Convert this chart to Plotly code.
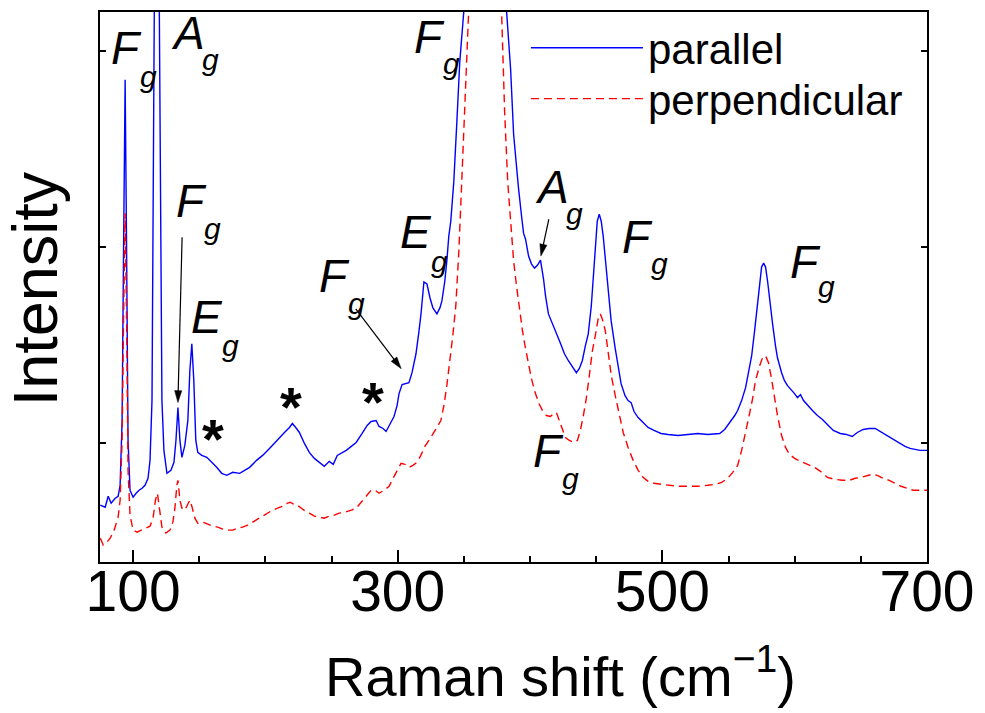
import math
import plotly.graph_objects as go

# ---------------- data ----------------
series_names = ["parallel", "perpendicular"]

# (Raman shift in cm^-1, intensity in arb. units)
parallel = [
    (75.2, 57), (78.9, 55), (81.2, 66), (83.4, 59), (86.5, 64), (88.7, 66), (90.2, 77),
    (91.7, 142), (92.8, 312), (94.0, 484), (95.1, 312), (96.2, 122), (97.7, 72),
    (100.0, 65), (102.3, 69), (104.5, 72), (106.8, 74), (109.0, 77), (111.3, 84),
    (112.8, 102), (114.3, 162), (115.5, 400), (116.2, 560), (118.0, 1000), (119.8, 560),
    (120.6, 400), (121.8, 162), (123.3, 112), (125.6, 89), (128.6, 92), (130.9, 100),
    (132.4, 122), (133.9, 155), (135.4, 122), (136.9, 105), (139.1, 117), (141.4, 142),
    (142.9, 192), (144.4, 219), (145.9, 182), (147.4, 122), (148.9, 110), (151.9, 107),
    (155.7, 105), (159.5, 100), (163.2, 95), (167.0, 89), (170.8, 87), (175.3, 90),
    (180.5, 89), (184.3, 92), (188.1, 95), (193.3, 102), (197.9, 107), (203.1, 114),
    (208.4, 122), (214.4, 130), (218.2, 135), (220.4, 139), (223.5, 134), (225.7, 130),
    (229.5, 119), (233.2, 110), (237.0, 104), (240.8, 100), (244.5, 96), (248.3, 101),
    (251.3, 98), (254.3, 107), (258.1, 110), (261.1, 112), (264.9, 116), (268.6, 120),
    (273.1, 129), (276.9, 137), (279.9, 141), (283.7, 142), (285.9, 136), (288.9, 134),
    (291.2, 131), (294.2, 138), (297.2, 146), (299.5, 157), (301.0, 169), (303.3, 178),
    (306.3, 179), (308.5, 180), (310.8, 190), (313.8, 209), (316.1, 232), (317.6, 249),
    (319.8, 281), (322.1, 279), (324.4, 265), (326.6, 255), (329.6, 249), (331.9, 255),
    (333.4, 262), (335.6, 282), (337.1, 302), (338.6, 327), (340.1, 342), (342.4, 382),
    (344.7, 442), (346.9, 502), (349.9, 552), (353.7, 640), (359.7, 850), (366.5, 950),
    (374.0, 850), (379.3, 640), (382.3, 552), (383.8, 522), (385.3, 495), (387.6, 429),
    (389.8, 392), (391.3, 375), (393.6, 347), (395.1, 330), (396.6, 324), (398.9, 307),
    (401.1, 299), (403.4, 295), (405.7, 298), (407.9, 303), (410.2, 284), (411.7, 267),
    (413.9, 249), (416.2, 242), (418.4, 235), (419.9, 230), (422.2, 222), (423.7, 217),
    (426.0, 209), (429.0, 202), (432.0, 196), (435.0, 190), (437.2, 194), (439.5, 202),
    (441.8, 217), (444.0, 229), (446.3, 257), (447.8, 289), (449.3, 322), (450.8, 342),
    (452.3, 349), (453.8, 342), (455.3, 327), (457.6, 297), (459.1, 272), (461.3, 242),
    (464.3, 215), (466.6, 197), (468.8, 179), (471.8, 167), (474.1, 162), (476.4, 160),
    (478.6, 151), (481.7, 145), (485.4, 140), (489.2, 135), (493.7, 132), (499.0, 129),
    (504.3, 128), (511.8, 127), (519.3, 128), (526.8, 129), (534.3, 128), (539.6, 129),
    (543.3, 129), (547.1, 133), (549.4, 137), (551.7, 142), (554.7, 147), (556.9, 152),
    (559.9, 162), (562.9, 175), (565.2, 190), (567.5, 207), (569.7, 232), (572.0, 262),
    (573.5, 282), (575.0, 296), (576.5, 300), (578.0, 296), (579.5, 282), (581.0, 262),
    (583.3, 239), (585.5, 217), (587.0, 205), (590.1, 190), (592.3, 182), (594.6, 177),
    (597.6, 173), (599.9, 169), (602.1, 165), (604.4, 168), (606.7, 162), (609.7, 157),
    (613.4, 152), (617.2, 147), (621.0, 143), (624.7, 138), (629.2, 132), (634.5, 129),
    (639.0, 128), (643.5, 126), (647.3, 130), (651.8, 133), (656.3, 134), (660.8, 134),
    (664.6, 131), (668.3, 128), (672.1, 125), (675.9, 122), (679.6, 119), (683.4, 116),
    (687.2, 114), (690.9, 113), (694.7, 112), (700.0, 112),
]

perpendicular = [
    (75.2, 24), (77.4, 17), (79.7, 19), (82.7, 24), (85.7, 32), (88.7, 45), (90.2, 62),
    (91.7, 122), (92.8, 242), (94.0, 350), (95.1, 242), (96.2, 92), (97.7, 47),
    (100.0, 32), (103.0, 30), (106.0, 32), (109.0, 34), (112.8, 36), (115.1, 44),
    (116.9, 62), (118.4, 69), (119.9, 52), (121.8, 35), (124.8, 29), (127.9, 32),
    (130.1, 40), (131.6, 54), (133.1, 77), (133.9, 82), (135.4, 62), (136.9, 54),
    (139.1, 52), (141.4, 59), (142.9, 62), (144.4, 56), (146.7, 44), (148.9, 39),
    (152.7, 40), (156.5, 38), (160.2, 36), (164.0, 35), (167.8, 33), (171.5, 32),
    (175.3, 32), (179.0, 34), (182.8, 35), (186.6, 37), (190.3, 40), (194.1, 43),
    (197.9, 46), (201.6, 49), (205.4, 52), (209.2, 54), (212.9, 56), (216.7, 59),
    (218.9, 60), (221.2, 58), (224.2, 57), (227.2, 54), (230.2, 51), (233.2, 49),
    (237.0, 46), (240.8, 45), (244.5, 44), (248.3, 46), (252.1, 47), (255.8, 49),
    (260.3, 50), (264.9, 52), (268.6, 54), (272.4, 60), (276.2, 66), (279.9, 72),
    (282.9, 72), (285.9, 69), (289.7, 72), (293.5, 76), (296.5, 84), (299.5, 92),
    (302.5, 99), (305.5, 98), (308.5, 95), (311.5, 97), (314.5, 100), (317.5, 107),
    (320.5, 116), (323.6, 122), (326.6, 128), (329.6, 135), (332.6, 142), (334.9, 157),
    (337.1, 177), (339.4, 200), (341.6, 227), (343.9, 257), (346.2, 312), (348.4, 382),
    (351.4, 482), (353.7, 552), (357.5, 680), (366.5, 850), (374.8, 680), (378.5, 552),
    (380.8, 452), (383.1, 382), (385.3, 342), (387.6, 302), (389.8, 277), (392.1, 252),
    (394.3, 232), (396.6, 214), (398.9, 197), (401.1, 184), (403.4, 172), (406.4, 160),
    (409.4, 152), (412.4, 147), (415.4, 146), (417.7, 149), (419.9, 150), (422.2, 142),
    (424.5, 132), (426.7, 125), (429.7, 122), (432.8, 120), (435.8, 122), (438.0, 132),
    (440.3, 147), (442.5, 164), (444.8, 187), (447.1, 212), (449.3, 227), (451.6, 245),
    (453.1, 249), (454.6, 244), (456.9, 232), (459.1, 207), (461.4, 187), (464.4, 167),
    (467.4, 147), (470.4, 130), (474.1, 115), (477.9, 102), (481.7, 92), (485.4, 85),
    (489.2, 81), (493.7, 79), (499.0, 78), (504.3, 77), (511.8, 76), (519.3, 76),
    (526.8, 76), (534.3, 77), (540.3, 78), (544.8, 80), (549.4, 84), (553.2, 90),
    (556.9, 97), (559.9, 112), (562.9, 129), (565.9, 149), (568.2, 164), (570.4, 182),
    (573.5, 197), (575.7, 205), (578.0, 207), (580.2, 200), (582.5, 184), (584.8, 164),
    (587.0, 147), (590.1, 127), (593.1, 115), (596.1, 108), (599.9, 104), (604.4, 101),
    (609.7, 98), (614.9, 95), (619.5, 91), (624.7, 85), (630.0, 83), (636.0, 82),
    (641.3, 82), (645.8, 84), (650.3, 85), (654.8, 87), (658.6, 88), (662.4, 87),
    (666.9, 84), (671.4, 82), (675.9, 79), (680.4, 76), (684.9, 74), (689.4, 72),
    (693.9, 72), (700.0, 72),
]

x_tick_values = [100, 300, 500, 700]
x_tick_labels = ["100", "300", "500", "700"]
x_title = "Raman shift (cm<sup>\u22121</sup>)"
y_title = "Intensity"

# mode labels: (symbol, subscript)
mode_labels = [("F", "g"), ("A", "g"), ("F", "g"), ("E", "g"), ("F", "g"), ("E", "g"),
               ("F", "g"), ("A", "g"), ("F", "g"), ("F", "g"), ("F", "g")]

# ---------------- layout helpers ----------------
W, H = 985, 713
ML, MR, MT, MB = 100, 54, 10, 151
XR = (75, 700)
YR = (0, 552)
PW = W - ML - MR
PH = H - MT - MB
FONT = "Liberation Sans, Arial, Helvetica, sans-serif"


def px2x(p):
    return XR[0] + (p - ML) * (XR[1] - XR[0]) / PW


def py2y(p):
    return YR[0] + (MT + PH - p) * (YR[1] - YR[0]) / PH


def pxp(p):
    return (p - ML) / PW


def pyp(p):
    return (MT + PH - p) / PH


fig = go.Figure()
fig.add_trace(go.Scatter(
    x=[p[0] for p in parallel], y=[p[1] for p in parallel],
    mode="lines", name=series_names[0], legend="legend",
    line=dict(color="#0000ff", width=1.4)))
fig.add_trace(go.Scatter(
    x=[p[0] for p in perpendicular], y=[p[1] for p in perpendicular],
    mode="lines", name=series_names[1], legend="legend2",
    line=dict(color="#ff0000", width=1.4, dash="8px,5px")))

annotations = []
shapes = []

# label placement (reference pixels): main letter (left, cap top), subscript (left, x-height top)
label_pos = [
    (113, 33, 137, 70), (173, 18, 202, 53), (178, 187, 202, 222), (193, 303, 218, 340),
    (322, 262, 345, 298), (403, 218, 428, 255), (418, 22, 440, 57), (539, 173, 567, 207),
    (627, 223, 650, 257), (795, 248, 818, 280), (537, 438, 560, 473),
]
ADV = {"F": 0.611, "A": 0.667, "E": 0.667}
MS, SS = 46, 30
for (main, sub), (ml, mt, sl, st) in zip(mode_labels, label_pos):
    box_left = ml - 3
    box_right = box_left + ADV[main] * MS
    annotations.append(dict(
        x=px2x(box_left), y=py2y(mt + 13), xref="x", yref="y",
        text="<i>%s</i>" % main, showarrow=False, borderpad=0,
        xanchor="left", yanchor="middle",
        font=dict(family=FONT, size=MS, color="black")))
    annotations.append(dict(
        x=px2x(max(sl - 2, box_right + 0.8)), y=py2y(st + 5), xref="x", yref="y",
        text="<i>%s</i>" % sub, showarrow=False, borderpad=0,
        xanchor="left", yanchor="middle",
        font=dict(family=FONT, size=SS, color="black")))

# asterisks
AS = 56
for cx, cy in [(214, 432), (292, 399), (374, 394)]:
    annotations.append(dict(
        x=px2x(cx), y=py2y(cy + 0.116 * AS), xref="x", yref="y",
        text="<b>*</b>", showarrow=False, xanchor="center", yanchor="middle",
        font=dict(family=FONT, size=AS, color="black")))

# arrows: (tail, head) in reference pixels, drawn as a line plus a filled head
HEAD_L, HEAD_W = 12, 3.6
for (tx, ty), (hx, hy) in [((182.5, 236), (178.3, 402)),
                           ((357, 308), (402.7, 368)),
                           ((551, 218), (543, 255))]:
    d = math.hypot(hx - tx, hy - ty)
    ux, uy = (hx - tx) / d, (hy - ty) / d
    bx, by = hx - ux * HEAD_L, hy - uy * HEAD_L
    shapes.append(dict(type="line", xref="x", yref="y", layer="above",
                       x0=px2x(tx), y0=py2y(ty), x1=px2x(bx + ux * 2), y1=py2y(by + uy * 2),
                       line=dict(color="black", width=1.2)))
    p1 = (bx - uy * HEAD_W, by + ux * HEAD_W)
    p2 = (bx + uy * HEAD_W, by - ux * HEAD_W)
    path = "M %f,%f L %f,%f L %f,%f Z" % (px2x(hx), py2y(hy), px2x(p1[0]), py2y(p1[1]),
                                          px2x(p2[0]), py2y(p2[1]))
    shapes.append(dict(type="path", path=path, xref="x", yref="y", layer="above",
                       fillcolor="black", line=dict(color="black", width=0.5)))

# axis titles
annotations.append(dict(
    x=pxp(563), y=pyp(673), xref="paper", yref="paper",
    text=x_title, showarrow=False, xanchor="center", yanchor="middle",
    font=dict(family=FONT, size=56, color="black")))
annotations.append(dict(
    x=pxp(35), y=pyp(288), xref="paper", yref="paper",
    text=y_title, showarrow=False, xanchor="center", yanchor="middle", textangle=-90,
    font=dict(family=FONT, size=63, color="black")))

legend_style = dict(xanchor="left", yanchor="top", bgcolor="rgba(0,0,0,0)",
                    borderwidth=0, itemwidth=112,
                    font=dict(family=FONT, size=42, color="black"))

fig.update_layout(
    width=W, height=H,
    margin=dict(l=ML, r=MR, t=MT, b=MB, pad=0),
    paper_bgcolor="white", plot_bgcolor="white",
    font=dict(family=FONT, color="black"),
    showlegend=True,
    legend=dict(x=pxp(528), y=pyp(12), **legend_style),
    legend2=dict(x=pxp(528), y=pyp(63), **legend_style),
    annotations=annotations,
    shapes=shapes,
    xaxis=dict(
        range=list(XR), tickmode="array", tickvals=x_tick_values, ticktext=x_tick_labels,
        ticks="inside", ticklen=12, tickwidth=1.5, tickcolor="black",
        ticklabelstandoff=-21,
        showline=True, linewidth=1.5, linecolor="black", mirror=True,
        showgrid=False, zeroline=False,
        tickfont=dict(family=FONT, size=57, color="black"),
        minor=dict(dtick=50, tick0=0, ticks="inside", ticklen=6, tickwidth=1.5,
                   tickcolor="black", showgrid=False)),
    xaxis2=dict(
        overlaying="x", matches="x", side="top", anchor="y",
        range=list(XR), tickmode="linear", tick0=0, dtick=50,
        ticks="inside", ticklen=5, tickwidth=1.5, tickcolor="black",
        showticklabels=False, showgrid=False, zeroline=False, showline=False),
    yaxis=dict(
        range=list(YR), tickmode="array", tickvals=[119, 316, 513],
        ticks="inside", ticklen=6, tickwidth=1.5, tickcolor="black",
        showticklabels=False, showline=True, linewidth=1.5, linecolor="black",
        mirror="allticks", showgrid=False, zeroline=False),
)

fig.write_html("out.html", config={"displayModeBar": False},
               post_script="document.body.style.margin='0px';")
